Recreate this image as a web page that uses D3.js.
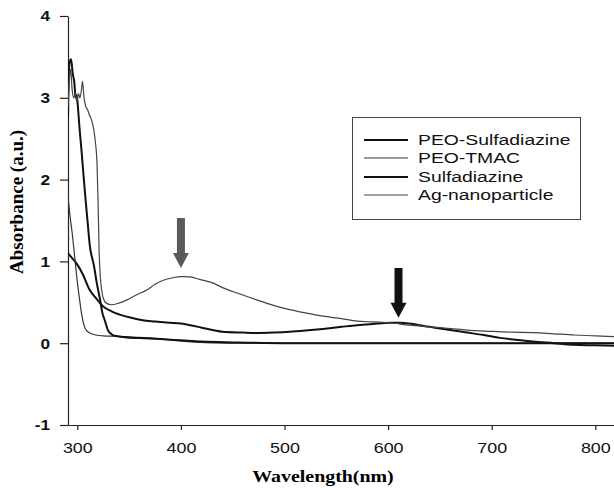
<!DOCTYPE html>
<html>
<head>
<meta charset="utf-8">
<script src="https://cdn.jsdelivr.net/npm/d3@7"></script>
<style>
  body { margin: 0; background: #fff; }
</style>
</head>
<body>
<script>
// tick labels
var xTicks = [300, 400, 500, 600, 700, 800];
var yTicks = [-1, 0, 1, 2, 3, 4];

// series
var peoSulfWl = [291, 295, 300, 305, 312, 318, 325, 333, 341, 352, 363, 375, 389, 400, 409, 420, 440, 460, 476, 490, 505, 520, 537, 555, 570, 585, 602, 612, 620, 640, 660, 676, 692, 708, 725, 740, 760, 779, 800, 818];
var peoSulfAbs = [1.10, 1.04, 0.96, 0.85, 0.65, 0.55, 0.45, 0.39, 0.35, 0.31, 0.28, 0.265, 0.25, 0.24, 0.22, 0.19, 0.14, 0.13, 0.125, 0.13, 0.14, 0.155, 0.175, 0.20, 0.22, 0.235, 0.25, 0.25, 0.24, 0.20, 0.16, 0.13, 0.10, 0.065, 0.04, 0.02, 0.0, -0.02, -0.025, -0.03];

var peoTmacWl = [291, 293, 295, 297.5, 300, 302, 304, 306, 308, 312, 318, 325, 335, 348, 360, 370, 383, 396, 410, 430, 460, 500, 600, 700, 818];
var peoTmacAbs = [1.79, 1.55, 1.35, 1.05, 0.75, 0.55, 0.37, 0.24, 0.17, 0.125, 0.10, 0.09, 0.085, 0.08, 0.07, 0.065, 0.05, 0.03, 0.015, 0.005, 0, 0, 0, 0, 0];

var sulfWl = [291, 291.5, 292.5, 294, 295.5, 297, 298.5, 299.5, 300.5, 302, 304, 306, 308, 310, 312, 316, 319, 322, 324, 326.5, 329.5, 333, 336, 348, 365, 380, 400, 420, 450, 500, 600, 700, 818];
var sulfAbs = [2.75, 3.2, 3.43, 3.47, 3.3, 3.2, 3.0, 3.03, 2.9, 2.65, 2.36, 2.05, 1.75, 1.47, 1.2, 0.95, 0.72, 0.53, 0.38, 0.28, 0.16, 0.11, 0.09, 0.07, 0.06, 0.05, 0.035, 0.02, 0.01, 0.0, 0.0, 0.0, 0.0];

var agWl = [291, 292, 293.5, 295, 296.5, 298, 299.5, 301, 302.5, 304, 305, 306.5, 308, 310, 312, 314, 316, 317.5, 319, 320, 321, 322, 323.5, 325, 328, 333, 340, 348, 357, 367, 375, 383, 392, 400, 409, 418, 430, 440, 455, 473, 490, 505, 520, 537, 555, 570, 585, 602, 620, 640, 660, 676, 700, 720, 740, 760, 780, 800, 818];
var agAbs = [2.9, 3.15, 3.35, 3.1, 3.0, 3.05, 2.95, 3.05, 3.0, 3.1, 3.2, 3.0, 2.9, 2.85, 2.78, 2.72, 2.6, 2.45, 2.2, 1.75, 1.15, 0.85, 0.65, 0.55, 0.49, 0.47, 0.49, 0.53, 0.59, 0.65, 0.72, 0.77, 0.80, 0.815, 0.81, 0.78, 0.74, 0.68, 0.61, 0.53, 0.46, 0.41, 0.37, 0.33, 0.30, 0.27, 0.26, 0.25, 0.22, 0.20, 0.18, 0.16, 0.145, 0.135, 0.13, 0.115, 0.10, 0.09, 0.08];

var legendNames = ["PEO-Sulfadiazine", "PEO-TMAC", "Sulfadiazine", "Ag-nanoparticle"];

// arrows: [wavelength, top value, tip value]
var arrows = [
  { wl: 400, top: 1.53, tip: 0.92, color: "#5a5a5a" },
  { wl: 610, top: 0.92, tip: 0.31, color: "#111" }
];

function zip(wl, ab) {
  return wl.map(function(w, i) { return { x: w, y: ab[i] }; });
}

var series = [
  { name: legendNames[0], data: zip(peoSulfWl, peoSulfAbs), width: 2, color: "#111" },
  { name: legendNames[1], data: zip(peoTmacWl, peoTmacAbs), width: 1.2, color: "#333" },
  { name: legendNames[2], data: zip(sulfWl, sulfAbs), width: 2, color: "#111" },
  { name: legendNames[3], data: zip(agWl, agAbs), width: 1.2, color: "#444" }
];

var sans = "'Liberation Sans', Arial, sans-serif";
var serif = "'Liberation Serif', 'Times New Roman', serif";

var svg = d3.select("body")
    .append("svg")
    .attr("width", 614)
    .attr("height", 488);

var x = d3.scaleLinear().domain([291, 818]).range([68, 614]);
var y = d3.scaleLinear().domain([-1, 4]).range([425, 16]);

svg.append("defs").append("clipPath")
    .attr("id", "plot")
  .append("rect")
    .attr("x", 68).attr("y", 0)
    .attr("width", 546).attr("height", 425);

// axes
var xAxis = svg.append("g")
    .attr("transform", "translate(0,425)")
    .call(d3.axisBottom(x).tickValues(xTicks).tickSize(5).tickPadding(13).tickSizeOuter(0));
xAxis.selectAll("text")
    .style("font-family", sans)
    .style("font-size", "14px")
    .attr("transform", "scale(1.28,1)")
    .attr("fill", "#111");

var yAxis = svg.append("g")
    .attr("transform", "translate(68,0)")
    .call(d3.axisLeft(y).tickValues(yTicks).tickFormat(function(d) { return String(d); })
      .tickSize(8).tickPadding(10).tickSizeOuter(0));
yAxis.selectAll("text")
    .style("font-family", sans)
    .style("font-size", "15px")
    .style("font-weight", "bold")
    .attr("x", -18 / 1.15)
    .attr("transform", "scale(1.15,1)")
    .attr("fill", "#111");

svg.selectAll(".domain, .tick line")
    .attr("stroke", "#222")
    .attr("stroke-width", 1.2);

// axis titles
svg.append("text")
    .attr("transform", "translate(323,482) scale(1.17,1)")
    .attr("text-anchor", "middle")
    .style("font-family", serif)
    .style("font-weight", "bold")
    .style("font-size", "17px")
    .text("Wavelength(nm)");

svg.append("text")
    .attr("transform", "translate(23,202) rotate(-90)")
    .attr("text-anchor", "middle")
    .style("font-family", serif)
    .style("font-weight", "bold")
    .style("font-size", "19px")
    .text("Absorbance (a.u.)");

// curves
var line = d3.line()
    .x(function(d) { return x(d.x); })
    .y(function(d) { return y(d.y); })
    .curve(d3.curveMonotoneX);

svg.append("g")
    .attr("clip-path", "url(#plot)")
  .selectAll("path")
    .data(series)
    .enter().append("path")
    .attr("d", function(s) { return line(s.data); })
    .attr("fill", "none")
    .attr("stroke", function(s) { return s.color; })
    .attr("stroke-width", function(s) { return s.width; })
    .attr("stroke-linejoin", "round");

// arrows
arrows.forEach(function(a) {
  var cx = x(a.wl);
  var top = y(a.top);
  var tip = y(a.tip);
  var headH = 15;
  svg.append("rect")
      .attr("x", cx - 4)
      .attr("y", top)
      .attr("width", 8)
      .attr("height", tip - top - headH + 1)
      .attr("fill", a.color);
  svg.append("path")
      .attr("d", "M" + (cx - 8) + "," + (tip - headH) + "L" + (cx + 8) + "," + (tip - headH) + "L" + cx + "," + tip + "Z")
      .attr("fill", a.color);
});

// legend
var legend = svg.append("g");
legend.append("rect")
    .attr("x", 352.5)
    .attr("y", 117.5)
    .attr("width", 228)
    .attr("height", 102)
    .attr("fill", "#fff")
    .attr("stroke", "#444")
    .attr("stroke-width", 1);

var rowY = [140, 158, 177, 195];
series.forEach(function(s, i) {
  legend.append("line")
      .attr("x1", 364).attr("x2", 408)
      .attr("y1", rowY[i]).attr("y2", rowY[i])
      .attr("stroke", s.color)
      .attr("stroke-width", s.width);
  legend.append("text")
      .attr("transform", "translate(418," + rowY[i] + ") scale(1.29,1)")
      .attr("dy", "0.35em")
      .style("font-family", sans)
      .style("font-size", "15px")
      .attr("fill", "#111")
      .text(s.name);
});
</script>
</body>
</html>
